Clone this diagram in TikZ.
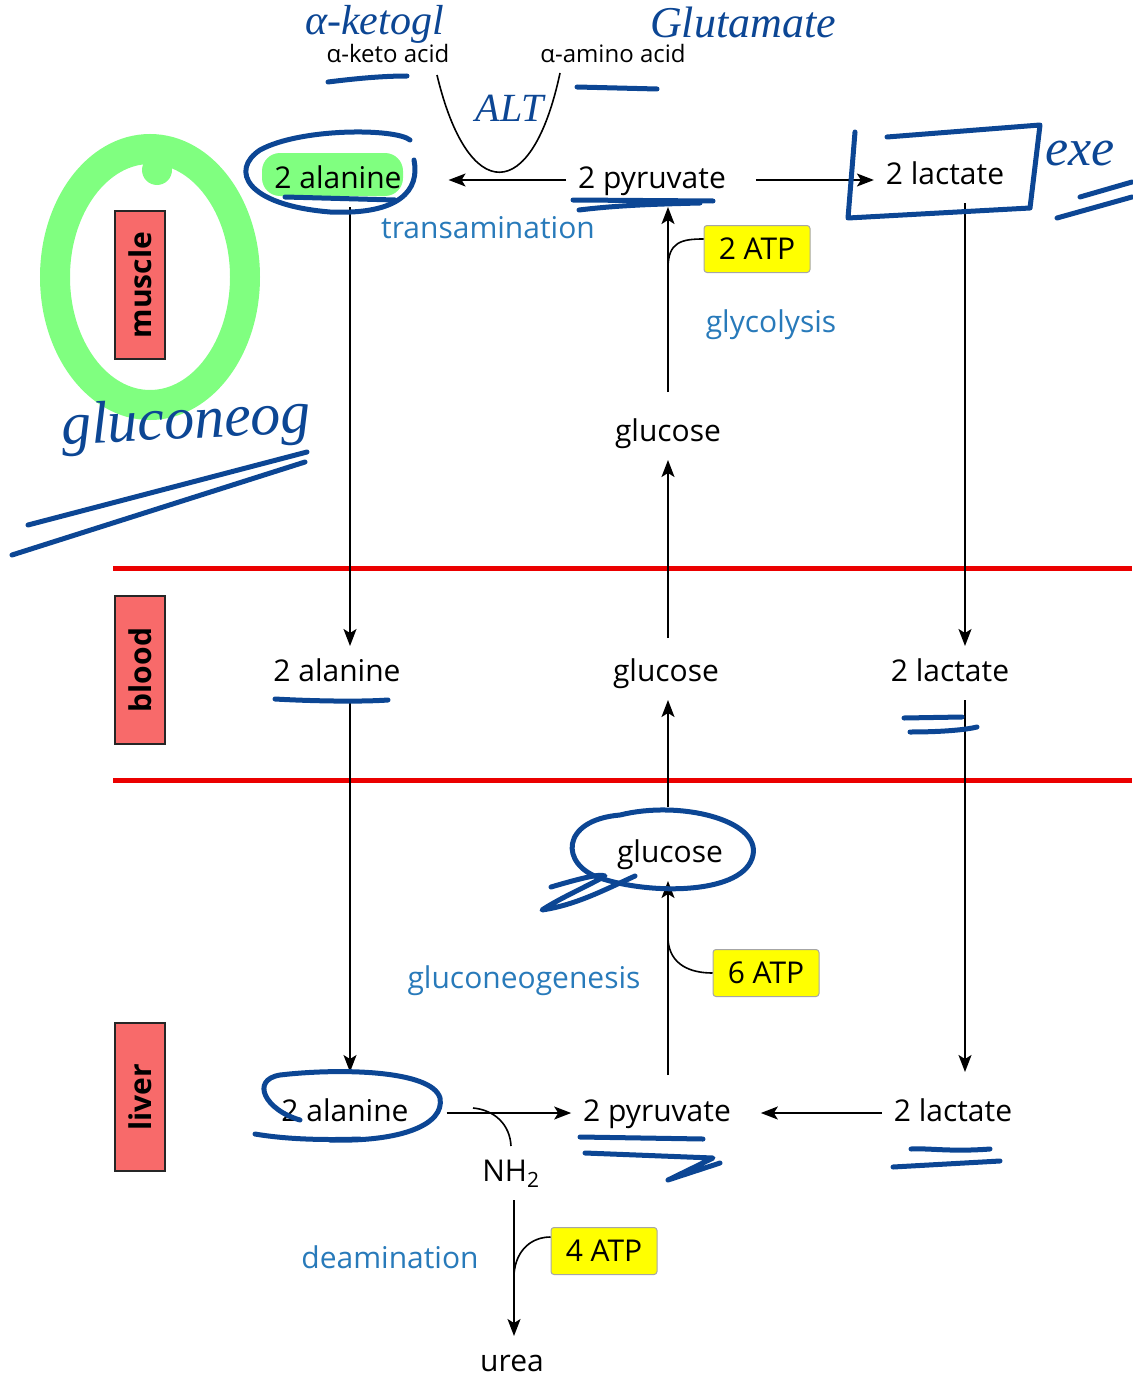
\documentclass[tikz,border=0pt]{standalone}
\usepackage{fontspec}
\setmainfont{Open Sans}
\newfontfamily\handfont{Liberation Serif}
\usetikzlibrary{arrows.meta}
\definecolor{ink}{RGB}{12,70,148}
\definecolor{procblue}{RGB}{40,122,186}
\definecolor{organred}{RGB}{248,106,106}
\definecolor{hilite}{RGB}{128,255,128}
\definecolor{atpyellow}{RGB}{255,255,0}
\definecolor{barred}{RGB}{235,0,0}

\begin{document}
\begin{tikzpicture}[x=1pt,y=-1pt,
  mol/.style={font=\fontsize{30}{36}\selectfont, inner sep=0pt, text height=23pt, text depth=7pt, outer sep=12pt, anchor=base},
  small/.style={font=\fontsize{24}{28}\selectfont, inner sep=0pt, anchor=base},
  proc/.style={font=\fontsize{30}{36}\selectfont, text=procblue, inner sep=0pt, anchor=base},
  organ/.style={draw=black!85, line width=1.2pt, fill=organred, rotate=90, minimum width=148pt, minimum height=50pt, inner sep=0pt, font=\fontsize{30}{34}\selectfont\bfseries},
  atp/.style={draw=black!35, line width=1pt, fill=atpyellow, rounded corners=3pt, minimum width=106pt, minimum height=47pt, inner sep=0pt, font=\fontsize{30}{36}\selectfont},
  flow/.style={line width=1.6pt, -{Stealth[length=17pt,width=13pt,inset=4pt]}},
  side/.style={line width=1.6pt},
  divider/.style={draw=barred, line width=5pt},
  pen/.style={draw=ink, line width=5pt, line cap=round, line join=round},
  hand/.style={text=ink, font=\handfont\itshape, inner sep=0pt},
]
\useasboundingbox (0,0) rectangle (1132,1378);

% highlighter marks
\draw[hilite, line width=30pt] (150,277) ellipse [x radius=95, y radius=128];
\fill[hilite] (157,170) circle (15);
\fill[hilite, rounded corners=18pt] (262,153) rectangle (403,196);

% compartment dividers
\draw[divider] (113,568) -- (1132,568);
\draw[divider] (113,780) -- (1132,780);

% compartment labels
\node[organ] (muscle) at (140,285) {muscle};
\node[organ] (blood)  at (140,670) {blood};
\node[organ] (liver)  at (140,1097) {liver};

% metabolites
\node[mol] (mAla) at (338,188) {2 alanine};
\node[mol] (mPyr) at (652,188) {2 pyruvate};
\node[mol] (mLac) at (945,184) {2 lactate};
\node[mol] (mGlc) at (668,441) {glucose};
\node[mol] (bAla) at (337,681) {2 alanine};
\node[mol] (bGlc) at (666,681) {glucose};
\node[mol] (bLac) at (950,681) {2 lactate};
\node[mol] (lGlc) at (670,862) {glucose};
\node[mol] (lAla) at (345,1121) {2 alanine};
\node[mol] (lPyr) at (657,1121) {2 pyruvate};
\node[mol] (lLac) at (953,1121) {2 lactate};
\node[mol] (nh2)  at (511,1181) {NH\textsubscript{2}};
\node[mol] (urea) at (512,1371) {urea};

\node[small] (keto)  at (388,63) {α-keto acid};
\node[small] (amino) at (613,63) {α-amino acid};

% process names
\node[proc] (transam) at (488,238) {transamination};
\node[proc] (glyco)   at (771,332) {glycolysis};
\node[proc] (gng)     at (524,988) {gluconeogenesis};
\node[proc] (deam)    at (390,1268) {deamination};

% energy costs
\node[atp] (atp2) at (757,249) {2 ATP};
\node[atp] (atp6) at (766,973) {6 ATP};
\node[atp] (atp4) at (604,1251) {4 ATP};

% column guides
\coordinate (colA) at (350,0);
\coordinate (colG) at (668,0);
\coordinate (colL) at (965,0);
\coordinate (colU) at (514,0);

% muscle reactions
\draw[flow, shorten >=35pt] (mPyr.west) -- (mAla.east |- mPyr.west);
\draw[flow, shorten <=18pt] (mPyr.east) -- (mLac.west |- mPyr.east);
\draw[flow, shorten <=14pt] (mGlc.north -| colG) -- (mPyr.south -| colG);
\coordinate (tk) at (437,75);
\coordinate (ta) at (560,73);
\draw[side] (tk) .. controls (468,205) and (532,205) .. (ta);
\coordinate (j2) at (668,268);
\draw[side] ([yshift=10pt]atp2.west) .. controls +(-22,0) and +(0,-26) .. (j2);

% exchange through the blood
\draw[flow] (mAla.south -| colA) -- (bAla.north -| colA);
\draw[flow, shorten >=14pt] (bAla.south -| colA) -- (lAla.north -| colA);
\draw[flow] (mLac.south -| colL) -- (bLac.north -| colL);
\draw[flow, shorten >=14pt] (bLac.south -| colL) -- (lLac.north -| colL);
\draw[flow, shorten <=8pt] (bGlc.north -| colG) -- (mGlc.south -| colG);
\draw[flow, shorten <=20pt] (lGlc.north -| colG) -- (bGlc.south -| colG);

% liver reactions
\draw[flow, shorten <=11pt] (lPyr.north -| colG) -- (lGlc.south -| colG);
\coordinate (j6) at (668,940);
\draw[side] (j6) .. controls +(2,25) and +(-22,0) .. (atp6.west);
\draw[flow, shorten <=26pt] (lAla.east) -- (lPyr.west |- lAla.east);
\draw[flow, shorten >=18pt] (lLac.west) -- (lPyr.east |- lLac.west);
\coordinate (jN) at (473,1108);
\draw[side] (jN) .. controls (495,1110) and (510,1125) .. (nh2.north);
\draw[flow] (nh2.south -| colU) -- (urea.north -| colU);
\coordinate (j4) at (514,1274);
\draw[side] (j4) .. controls +(2,-25) and +(-18,0) .. ([yshift=14pt]atp4.west);

% pen annotations: words
\node[hand, font=\handfont\itshape\fontsize{42}{42}\selectfont, anchor=base west] (wKeto) at (305,35) {α-ketogl};
\node[hand, font=\handfont\itshape\fontsize{44}{44}\selectfont, anchor=base west] (wGlu) at (650,38) {Glutamate};
\node[hand, font=\handfont\itshape\fontsize{40}{40}\selectfont, anchor=base] (wAlt) at (510,122) {ALT};
\node[hand, font=\handfont\itshape\fontsize{52}{52}\selectfont, anchor=base west] (wExe) at (1045,165) {exe};
\node[hand, font=\handfont\itshape\fontsize{60}{60}\selectfont, anchor=base west, rotate=3] (wGng) at (62,445) {gluconeog};

% pen annotations: underlines, rings and boxes
\draw[pen] (328,82) .. controls (360,78) and (385,76) .. (407,76);
\draw[pen] (577,87) -- (657,89);
\draw[pen] (410,140) .. controls (395,128) and (300,128) .. (260,150)
           .. controls (230,170) and (245,205) .. (330,212)
           .. controls (400,215) and (420,190) .. (414,160);
\draw[pen] (285,197) -- (395,200);
\draw[pen] (573,200) -- (713,201);
\draw[pen] (579,210) .. controls (620,205) and (660,204) .. (700,203);
\draw[pen] (855,132) -- (848,218) -- (1030,208) -- (1040,125) -- (887,137);
\draw[pen] (1080,197) -- (1132,182);
\draw[pen] (1057,218) -- (1132,197);
\draw[pen] (28,525) -- (307,452);
\draw[pen] (12,555) -- (305,462);
\draw[pen] (275,699) .. controls (310,701) and (360,702) .. (388,700);
\draw[pen] (904,718) -- (962,717);
\draw[pen] (910,732) .. controls (940,732) and (965,730) .. (977,727);
\draw[pen] (620,815) .. controls (680,800) and (760,820) .. (753,855)
           .. controls (745,895) and (650,895) .. (600,878)
           .. controls (560,865) and (560,820) .. (620,815);
\draw[pen] (551,887) .. controls (575,880) and (600,873) .. (605,876)
           .. controls (590,885) and (560,898) .. (542,910)
           .. controls (575,905) and (600,892) .. (635,876);
\draw[pen] (330,1140) .. controls (400,1142) and (445,1125) .. (440,1098)
           .. controls (432,1070) and (340,1068) .. (280,1075)
           .. controls (250,1080) and (265,1110) .. (300,1120);
\draw[pen] (255,1134) .. controls (290,1140) and (330,1140) .. (360,1139);
\draw[pen] (580,1137) -- (703,1139);
\draw[pen] (585,1153) -- (713,1158) -- (668,1180) -- (720,1163);
\draw[pen] (911,1149) .. controls (930,1148) and (950,1152) .. (990,1149);
\draw[pen] (893,1167) -- (1000,1161);
\end{tikzpicture}
\end{document}
